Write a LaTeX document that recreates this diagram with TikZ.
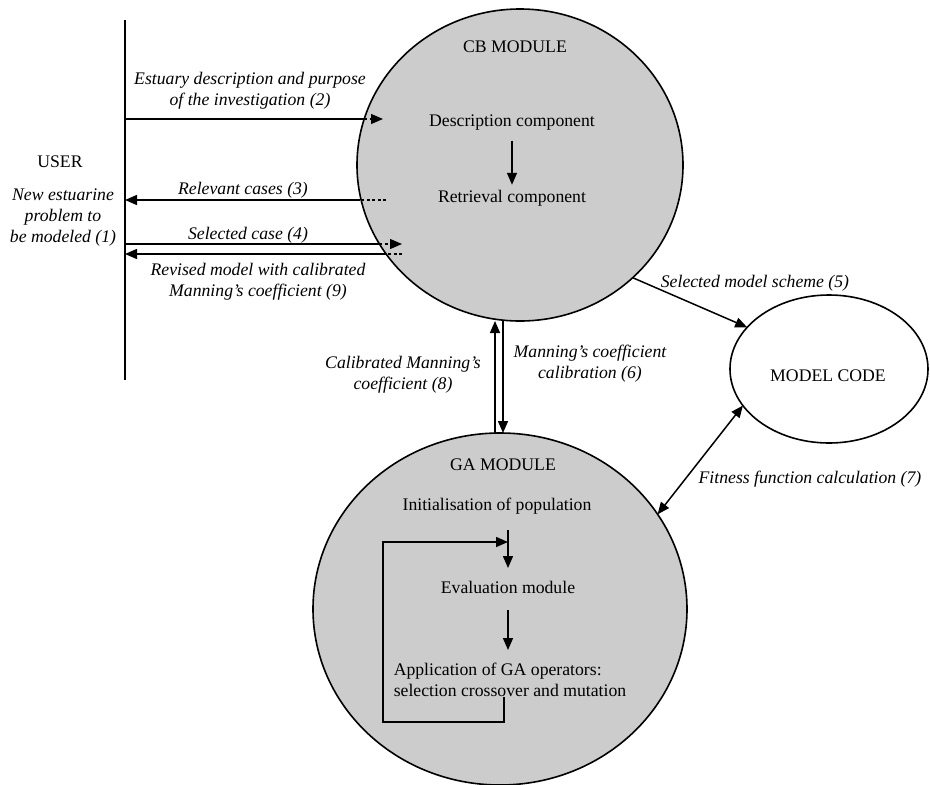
\documentclass[tikz,border=0pt]{standalone}
\usepackage{fontspec}
\setmainfont{Liberation Serif}
\usetikzlibrary{shapes.geometric,arrows.meta,calc}
\definecolor{modgray}{RGB}{204,204,204}
\begin{document}
\begin{tikzpicture}[x=1pt,y=-1pt,
  font=\fontsize{17.7}{21}\selectfont,
  lbl/.style={font=\fontsize{17.7}{21}\selectfont\itshape, align=center, inner sep=0},
  txt/.style={inner sep=0, align=center},
  module/.style={ellipse, draw, line width=1.6pt, fill=modgray, inner sep=0, outer sep=0},
  arr/.style={line width=1.5pt, -{Triangle[length=12pt,width=10pt]}},
  darr/.style={line width=1.5pt, {Triangle[length=12pt,width=10pt]}-{Triangle[length=12pt,width=10pt]}},
  ln/.style={line width=1.5pt},
  dsh/.style={line width=1.2pt, dash pattern=on 3pt off 2.5pt},
]
\useasboundingbox (0,0) rectangle (930,785);

% modules
\node[module, minimum width=326pt, minimum height=312pt] (cb) at (520,165) {};
\node[module, minimum width=374pt, minimum height=352pt] (ga) at (500,609) {};
\node[ellipse, draw, line width=1.6pt, inner sep=0, outer sep=0,
      minimum width=198pt, minimum height=148pt] (mc) at (829,369) {};
\node[txt] (mctext) at (828,376) {MODEL CODE};

% CB content
\node[txt] (cbt) at (515,47) {CB MODULE};
\node[txt] (desc) at (512,123) {Description component};
\node[txt] (retr) at (512,198) {Retrieval component};
\draw[arr] ($(desc.south)+(0,10)$) -- ($(retr.north)+(0,-5)$);

% GA content
\node[txt] (gat) at (503,465) {GA MODULE};
\node[txt] (init) at (497,506) {Initialisation of population};
\node[txt] (eval) at (508,587) {Evaluation module};
\node[txt, align=left] (appl) at (510,680) {Application of GA operators:\\selection crossover and mutation};
\coordinate (ia) at (508,530);
\coordinate (ib) at (508,568);
\draw[arr] (ia) -- (ib);
\coordinate (ea) at (508,610);
\coordinate (eb) at (508,650);
\draw[arr] (ea) -- (eb);
\coordinate (lp0) at (504,697);
\coordinate (lp1) at (504,722);
\coordinate (lp2) at (383,722);
\coordinate (lp3) at (383,542);
\coordinate (lp4) at (508,542);
\draw[arr] (lp0) -- (lp1) -- (lp2) -- (lp3) -- (lp4);

% user
\node[txt] (user) at (60,162) {USER};
\node[lbl] (l1) at (63,218) {New estuarine\\problem to\\be modeled (1)};
\coordinate (utop) at (125,20);
\coordinate (ubot) at (125,380);
\draw[ln] (utop) -- (ubot);

% (2)
\coordinate (a2s) at (125,119);
\coordinate (a2e) at (364,119);
\coordinate (a2t) at (383,119);
\draw[ln] (a2s) -- (a2e);
\draw[dsh, -{Triangle[length=12pt,width=10pt]}] (a2e) -- (a2t);
\node[lbl] (l2) at (250,91) {Estuary description and purpose\\of the investigation (2)};

% (3)
\coordinate (a3d) at (386,200);
\coordinate (a3e) at (360,200);
\coordinate (a3t) at (125,200);
\draw[dsh] (a3d) -- (a3e);
\draw[arr] (a3e) -- (a3t);
\node[lbl] (l3) at (243,190) {Relevant cases (3)};

% (4)
\coordinate (a4s) at (125,244);
\coordinate (a4e) at (379,244);
\coordinate (a4t) at (402,244);
\draw[ln] (a4s) -- (a4e);
\draw[dsh, -{Triangle[length=12pt,width=10pt]}] (a4e) -- (a4t);
\node[lbl] (l4) at (248,235) {Selected case (4)};

% (9)
\coordinate (a9d) at (402,254);
\coordinate (a9e) at (385,254);
\coordinate (a9t) at (125,254);
\draw[dsh] (a9d) -- (a9e);
\draw[arr] (a9e) -- (a9t);
\node[lbl] (l9) at (258,282) {Revised model with calibrated\\Manning's coefficient (9)};

% CB <-> GA
\draw[arr] ([xshift=-5pt]ga.north) -- ([xshift=-25pt]cb.south);
\draw[arr] ([xshift=-17pt]cb.south) -- ([xshift=3pt]ga.north);
\node[lbl] (l8) at (403,375) {Calibrated Manning's\\coefficient (8)};
\node[lbl] (l6) at (590,364) {Manning's coefficient\\calibration (6)};

% CB -> model code
\draw[arr] (cb.-45) -- (mc.153);
\node[lbl] (l5) at (755,283) {Selected model scheme (5)};

% GA <-> model code
\draw[darr] (ga.31) -- (mc.203);
\node[lbl] (l7) at (810,479) {Fitness function calculation (7)};
\end{tikzpicture}
\end{document}
